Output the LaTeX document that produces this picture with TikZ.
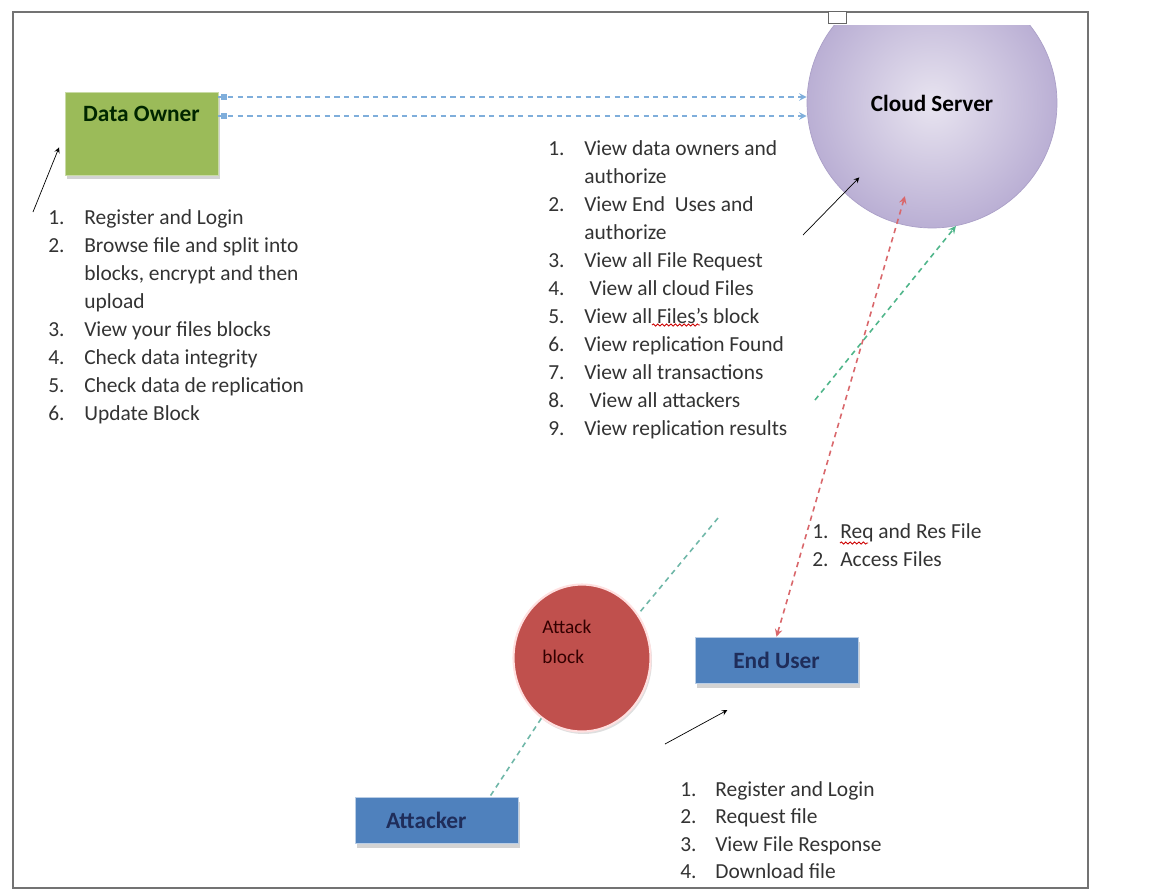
\documentclass[tikz,border=0pt]{standalone}
\usepackage{fontspec}
\setmainfont{Carlito}
\usepackage{xcolor}
\usetikzlibrary{shapes.geometric, arrows, positioning, shadows, decorations.pathmorphing}

\definecolor{ownergreen}{HTML}{9BBB59}
\definecolor{ownerline}{HTML}{C9DBA6}
\definecolor{userblue}{HTML}{4F81BD}
\definecolor{userline}{HTML}{B9CDE5}
\definecolor{attackred}{HTML}{C0504D}
\definecolor{cloudin}{HTML}{E8E4F0}
\definecolor{cloudout}{HTML}{BAAFD4}
\definecolor{cloudline}{HTML}{ABA0C8}
\definecolor{bluelink}{HTML}{7FAEDB}
\definecolor{redlink}{HTML}{D9676B}
\definecolor{greenlink}{HTML}{4FB58A}
\definecolor{teallink}{HTML}{6FB7A8}
\definecolor{navytext}{HTML}{1F2D5A}

\tikzstyle{ownerbox} = [rectangle, minimum width=3.06cm, minimum height=1.66cm, fill=ownergreen, draw=ownerline, drop shadow={shadow xshift=0.4mm, shadow yshift=-0.7mm, opacity=0.35}, font=\fontsize{13.3}{15}\selectfont\bfseries, text=black!85!green, text height=0.3cm, text depth=0.8cm]
\tikzstyle{userbox} = [rectangle, minimum width=3.26cm, minimum height=0.92cm, fill=userblue, draw=userline, drop shadow={shadow xshift=0.4mm, shadow yshift=-0.9mm, opacity=0.35}, font=\fontsize{13.3}{15}\selectfont\bfseries, text=navytext]
\tikzstyle{itemlist} = [inner sep=0pt, anchor=base west, font=\fontsize{12.2}{15.94}\selectfont, text=black!80]
\tikzstyle{arrow} = [thin,->,>=stealth]
\tikzstyle{linkdash} = [line width=0.9pt, dash pattern=on 3pt off 2.5pt, >=stealth]
\tikzstyle{spellwave} = [red!80!black, line width=0.5pt, decorate, decoration={snake, amplitude=0.6pt, segment length=2.5pt}]

\begin{document}
\begin{tikzpicture}[x=0.02cm, y=-0.02cm]
\useasboundingbox (0,0) rectangle (1176,894);

% Cloud Server
\begin{scope}
\clip (0,25) rectangle (1176,894);
\node (cloud) [circle, minimum size=5cm, shading=radial, inner color=cloudin, outer color=cloudout, draw=cloudline, font=\fontsize{13.2}{15}\selectfont\bfseries] at (932,103) {Cloud Server};
\end{scope}

% frame
\draw[black!55, line width=1.1pt] (13,12) rectangle (1088,888);
\draw[black!60, fill=white] (828,11) rectangle (846,23);

% Data Owner
\node (owner) [ownerbox] at (141.5,133.5) {Data Owner};
\node (ownerlist) [itemlist] at (48,224) {\begin{tabular}[t]{@{}p{0.72cm}@{}l@{}}
1. & Register and Login\\
2. & Browse file and split into\\
   & blocks, encrypt and then\\
   & upload\\
3. & View your files blocks\\
4. & Check data integrity\\
5. & Check data de replication\\
6. & Update Block
\end{tabular}};

% Cloud Server list
\node (cloudlist) [itemlist] at (548,155) {\begin{tabular}[t]{@{}p{0.72cm}@{}l@{}}
1. & View data owners and\\
   & authorize\\
2. & View End\ \ Uses and\\
   & authorize\\
3. & View all File Request\\
4. & \hspace{3pt}View all cloud Files\\
5. & View all Files's block\\
6. & View replication Found\\
7. & View all transactions\\
8. & \hspace{3pt}View all attackers\\
9. & View replication results
\end{tabular}};
\draw[spellwave] (652,325) -- (700,325);

% End User
\node (user) [userbox] at (776.5,660) {End User};
\node (reqlist) [itemlist] at (812,538) {\begin{tabular}[t]{@{}p{0.56cm}@{}l@{}}
1. & Req and Res File\\
2. & Access Files
\end{tabular}};
\draw[spellwave] (840,543) -- (868,543);
\node (userlist) [itemlist, font=\fontsize{12.2}{15.7}\selectfont] at (680,796) {\begin{tabular}[t]{@{}p{0.7cm}@{}l@{}}
1. & Register and Login\\
2. & Request file\\
3. & View File Response\\
4. & Download file
\end{tabular}};

% Attacker
\node (attack) [ellipse, minimum width=2.74cm, minimum height=2.94cm, fill=attackred, draw=red!12, line width=1.2pt, drop shadow={shadow xshift=0.3mm, shadow yshift=-0.5mm, opacity=0.25}] at (582,658) {};
\node (attacklbl) [anchor=north west, align=left, inner sep=0pt, font=\fontsize{11}{16.8}\selectfont, text=black!80!red] at (542,620) {Attack\\block};
\node (attacker) [userbox, text width=2.9cm, align=left] at (436.5,820.5) {\hspace{0.44cm}Attacker};

% links
\draw[linkdash, bluelink, ->] (owner.east |- 0,97) -- (cloud.west |- 0,97);
\draw[linkdash, bluelink, ->] (owner.east |- 0,116) -- (cloud.west |- 0,116);
\fill[bluelink] (221,94) rectangle (227,100);
\fill[bluelink] (221,113) rectangle (227,119);
\draw[linkdash, redlink, <->, shorten >=1.94cm] (user.north) -- (cloud.center);
\coordinate (greenpt) at (815,400);
\draw[linkdash, greenlink, ->] (greenpt) -- (cloud.281);
\coordinate (attackpt) at (718,518);
\draw[linkdash, teallink] (attackpt) -- (attack.38);
\draw[linkdash, teallink] (attack.236) -- ([xshift=1.06cm]attacker.north);

% pointers
\coordinate (ownerpt) at (33,212);
\draw[arrow, shorten >=0.3cm] (ownerpt) -- (owner.west);
\coordinate (cloudpt) at (803,235);
\draw[arrow, shorten >=2.08cm] (cloudpt) -- (cloud.center);
\coordinate (userpt) at (665,744);
\draw[arrow, shorten >=1.12cm] (userpt) -- (user.south);

\end{tikzpicture}
\end{document}
